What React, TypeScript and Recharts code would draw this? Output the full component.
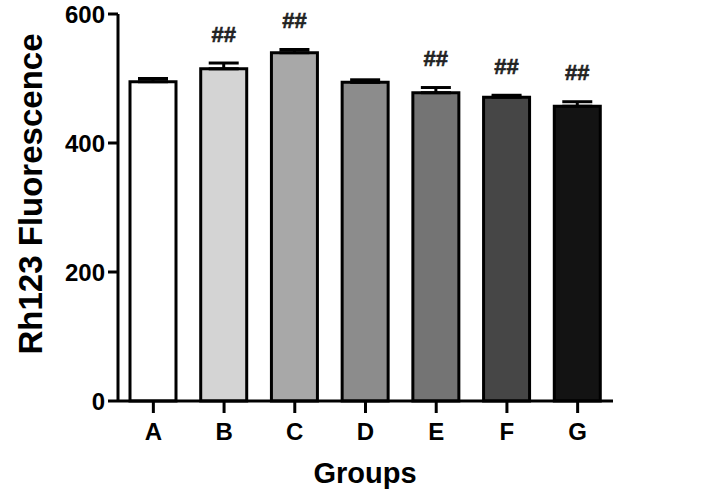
import { BarChart, Bar, XAxis, YAxis, Cell, ErrorBar, LabelList } from 'recharts';

const groups = ['A', 'B', 'C', 'D', 'E', 'F', 'G'];
const means = [495, 515, 540, 494, 478, 471, 457];
const sems = [5, 9, 5, 4, 8, 3, 7];
const marks = ['', '##', '##', '', '##', '##', '##'];
const fills = ['#ffffff', '#d4d4d4', '#a8a8a8', '#8c8c8c', '#747474', '#464646', '#131313'];
const yTicks = [0, 200, 400, 600];

const data = groups.map((g, i) => ({
  group: g,
  value: means[i],
  err: [0, sems[i]],
  mark: marks[i],
}));

const FONT = '"Liberation Sans", Arial, sans-serif';

function MarkLabel(props: any) {
  const { x, y, width, height, index } = props;
  const txt = marks[index];
  if (!txt) return null;
  const pxPerUnit = height / means[index];
  const top = y - sems[index] * pxPerUnit;
  return (
    <text
      x={x + width / 2}
      y={top - 29}
      textAnchor="middle"
      dominantBaseline="central"
      fontFamily={FONT}
      fontWeight="bold"
      fontSize={22}
      fill="#222"
      stroke="#222"
      strokeWidth={0.6}
    >
      {txt}
    </text>
  );
}

export default function App() {
  const tickStyle = { fill: '#000', fontSize: 24, fontWeight: 'bold', fontFamily: FONT };
  return (
    <div style={{ position: 'absolute', left: 0, top: 0, background: '#fff' }}>
      <BarChart
        width={708}
        height={494}
        data={data}
        margin={{ top: 14, right: 95, left: 0, bottom: 0 }}
      >
        <XAxis
          dataKey="group"
          height={93}
          stroke="#000"
          strokeWidth={3}
          tickSize={12}
          tickMargin={10}
          tick={tickStyle}
          label={{
            content: () => (
              <text
                x={365}
                y={473}
                textAnchor="middle"
                dominantBaseline="central"
                fontFamily={FONT}
                fontWeight="bold"
                fontSize={29}
                fill="#000"
              >
                Groups
              </text>
            ),
          }}
        />
        <YAxis
          width={118}
          domain={[0, 600]}
          ticks={yTicks}
          stroke="#000"
          strokeWidth={3}
          tickSize={10}
          tickMargin={3}
          tick={tickStyle}
          label={{
            content: () => (
              <text
                x={30}
                y={194}
                transform="rotate(-90 30 194)"
                textAnchor="middle"
                dominantBaseline="central"
                fontFamily={FONT}
                fontWeight="bold"
                fontSize={33}
                fill="#000"
              >
                Rh123 Fluorescence
              </text>
            ),
          }}
        />
        <Bar dataKey="value" barSize={46} stroke="#000" strokeWidth={3} isAnimationActive={false}>
          {data.map((d, i) => (
            <Cell key={d.group} fill={fills[i]} />
          ))}
          <ErrorBar dataKey="err" width={15} stroke="#000" strokeWidth={3} direction="y" />
          <LabelList dataKey="mark" content={MarkLabel} />
        </Bar>
      </BarChart>
    </div>
  );
}
